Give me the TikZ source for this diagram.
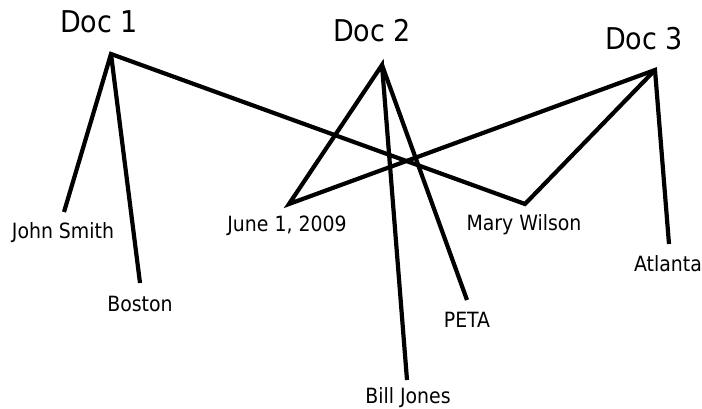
\documentclass[tikz,border=0pt]{standalone}
\usepackage{fontspec}
\setmainfont{DejaVu Sans Condensed}
\usepackage{tikz}
\usetikzlibrary{positioning}

\begin{document}
\begin{tikzpicture}[
    x=1pt, y=-1pt,
    link/.style={line width=4.2pt, line join=miter},
    docname/.style={anchor=base, inner sep=0pt, font=\fontsize{30}{36}\selectfont},
    entity/.style={anchor=base, inner sep=0pt, font=\fontsize{21}{25}\selectfont}
]
\useasboundingbox (0,0) rectangle (702,409);

% Documents
\node[docname] (doc1) at (99,33) {Doc 1};
\node[docname] (doc2) at (372,42) {Doc 2};
\node[docname] (doc3) at (644,50) {Doc 3};
\coordinate (d1) at (111,54);
\coordinate (d2) at (382,65);
\coordinate (d3) at (655,70);

% Entities
\node[entity] (smith) at (63,239) {John Smith};
\node[entity] (boston) at (140,311) {Boston};
\node[entity] (june) at (287,232) {June 1, 2009};
\node[entity] (wilson) at (524,230) {Mary Wilson};
\node[entity] (peta) at (467,327) {PETA};
\node[entity] (jones) at (408,403) {Bill Jones};
\node[entity] (atlanta) at (668,271) {Atlanta};
\coordinate (smithend) at (64,212);
\coordinate (bostonend) at (140,283);
\coordinate (juneend) at (289,204);
\coordinate (wilsonend) at (525,204);
\coordinate (petaend) at (467,300);
\coordinate (jonesend) at (407,380);
\coordinate (atlantaend) at (669,244);

% Links
\draw[link] (smithend) -- (d1) -- (wilsonend) -- (d3);
\draw[link] (d1) -- (bostonend);
\draw[link] (jonesend) -- (d2) -- (juneend) -- (d3) -- (atlantaend);
\draw[link] (d2) -- (petaend);

\end{tikzpicture}
\end{document}
